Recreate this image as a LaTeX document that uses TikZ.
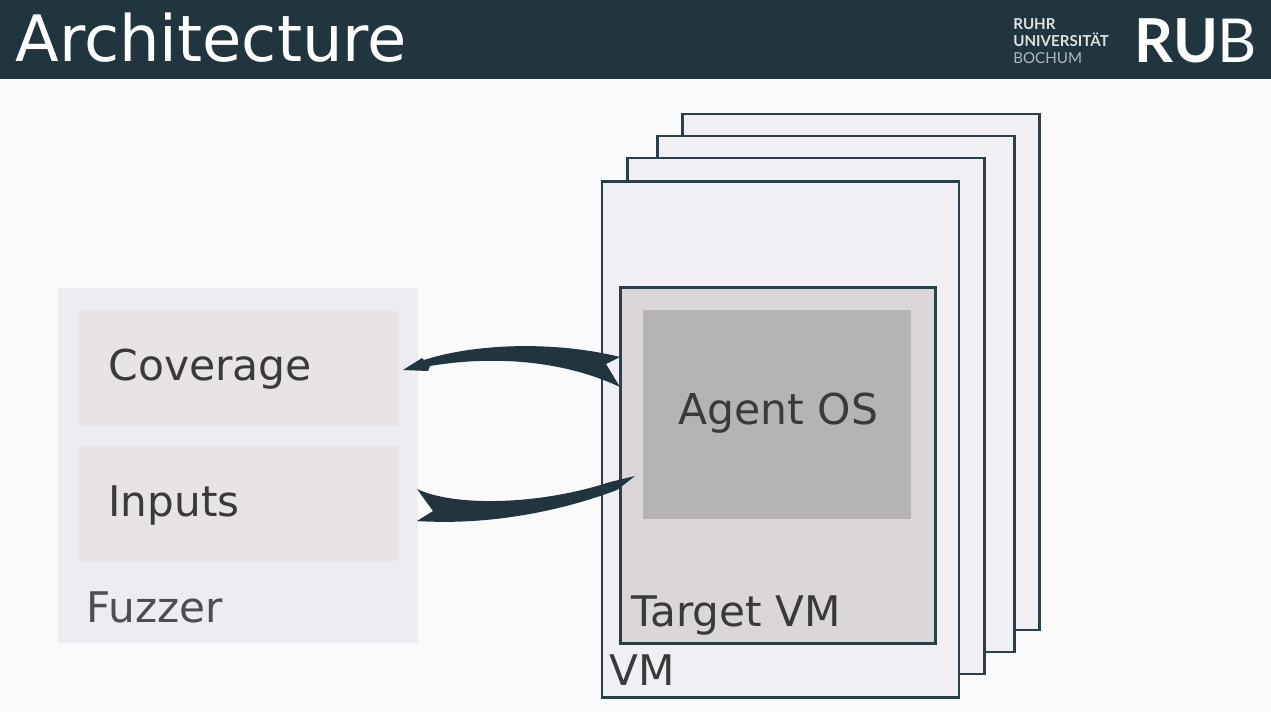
\documentclass[tikz,border=0pt]{standalone}
\usepackage{fontspec}
\setmainfont{DejaVu Sans}
\newfontfamily\logofont{Lato}
\definecolor{barcol}{HTML}{21353F}
\definecolor{pagecol}{HTML}{FAFAFB}
\definecolor{fuzzcol}{HTML}{EDEDF1}
\definecolor{cellcol}{HTML}{E8E4E6}
\definecolor{vmcol}{HTML}{F0F0F4}
\definecolor{targetcol}{HTML}{DAD6D9}
\definecolor{agentcol}{HTML}{B5B3B6}
\definecolor{linecol}{HTML}{2B3F48}
\definecolor{textcol}{HTML}{3A3A3C}
\tikzset{
	flat/.style={inner sep=0pt, outer sep=0pt},
	vmbox/.style={flat, draw=linecol, line width=1.5pt, fill=vmcol},
	label/.style={inner sep=0pt, anchor=base west, text=textcol, font=\fontsize{24}{28}\selectfont},
	logotext/.style={inner sep=0pt, anchor=base west, font=\logofont\bfseries\fontsize{8.6}{10}\selectfont}
}
\begin{document}
\begin{tikzpicture}[x=0.02cm, y=-0.02cm]
	\useasboundingbox (0, 0) rectangle (1271, 711);
	\fill[pagecol] (0, 0) rectangle (1271, 711);
	\fill[barcol] (0, 0) rectangle (1271, 79);
	\node[inner sep=0pt, anchor=base west, text=white, font=\fontsize{36.4}{42}\selectfont] (title) at (15, 61) {Architecture};
	\node[logotext, text=white!85!barcol] (ruhr) at (1013, 29) {RUHR};
	\node[logotext, text=white!85!barcol] (uni) at (1013, 46) {UNIVERSITÄT};
	\node[logotext, text=white!65!barcol, font=\logofont\fontsize{8.6}{10}\selectfont] (bochum) at (1013, 63) {BOCHUM};
	\node[inner sep=0pt, anchor=base west, text=white, font=\logofont\fontsize{34.5}{40}\selectfont] (rub) at (1134, 62) {\textbf{RU}B};

	% fuzzer side
	\node[flat, fill=fuzzcol, minimum width=204.5pt, minimum height=202.5pt] (fuzzer) at (238, 465.5) {};
	\node[flat, fill=cellcol, minimum width=181pt, minimum height=66pt] (coverage) at (238.5, 368.5) {};
	\node[flat, fill=cellcol, minimum width=181pt, minimum height=66pt] (inputs) at (238.5, 503.5) {};
	\node[label, font=\fontsize{24.2}{28}\selectfont] (covlabel) at (108, 380) {Coverage};
	\node[label] (inplabel) at (108, 516) {Inputs};
	\node[label, text=textcol!90!white] (fuzzlabel) at (86, 622) {Fuzzer};

	% stack of VMs, back to front
	\node[vmbox, minimum width=203pt, minimum height=293.5pt] (vmd) at (861, 372) {};
	\node[vmbox, minimum width=203pt, minimum height=293.5pt] (vmc) at (836, 394) {};
	\node[vmbox, minimum width=203pt, minimum height=293.5pt] (vmb) at (806, 416) {};
	\node[vmbox, minimum width=203pt, minimum height=293.5pt] (vma) at (780.5, 439.5) {};
	\node[vmbox, fill=targetcol, minimum width=179pt, minimum height=202.5pt] (target) at (778, 465.5) {};
	\node[flat, fill=agentcol, minimum width=152pt, minimum height=118.5pt] (agent) at (777, 414.5) {};
	\node[label, font=\fontsize{24.2}{28}\selectfont] (agentlabel) at (678, 424) {Agent OS};
	\node[label] (targetlabel) at (631, 626) {Target VM};
	\node[label] (vmlabel) at (609, 685) {VM};

	% arrows
	\coordinate (covtip) at (403, 370);
	\coordinate (covtail) at (620, 357);
	\coordinate (covbarb) at (620, 387);
	\coordinate (inptail) at (417, 489);
	\coordinate (inpbarb) at (417, 521);
	\coordinate (inptip) at (635, 476);
	\fill[barcol] (covtip) -- (422, 358) -- (424, 360) .. controls (480, 342) and (560, 342) .. (covtail)
		-- (606, 364) -- (covbarb) .. controls (565, 361) and (495, 355) .. (430, 366) -- (428, 371) -- cycle;
	\fill[barcol] (inptail) .. controls (455, 507) and (540, 505) .. (610, 482)
		-- (inptip) -- (617, 490) .. controls (550, 515) and (480, 525) .. (inpbarb) -- (433, 511) -- cycle;
\end{tikzpicture}
\end{document}
